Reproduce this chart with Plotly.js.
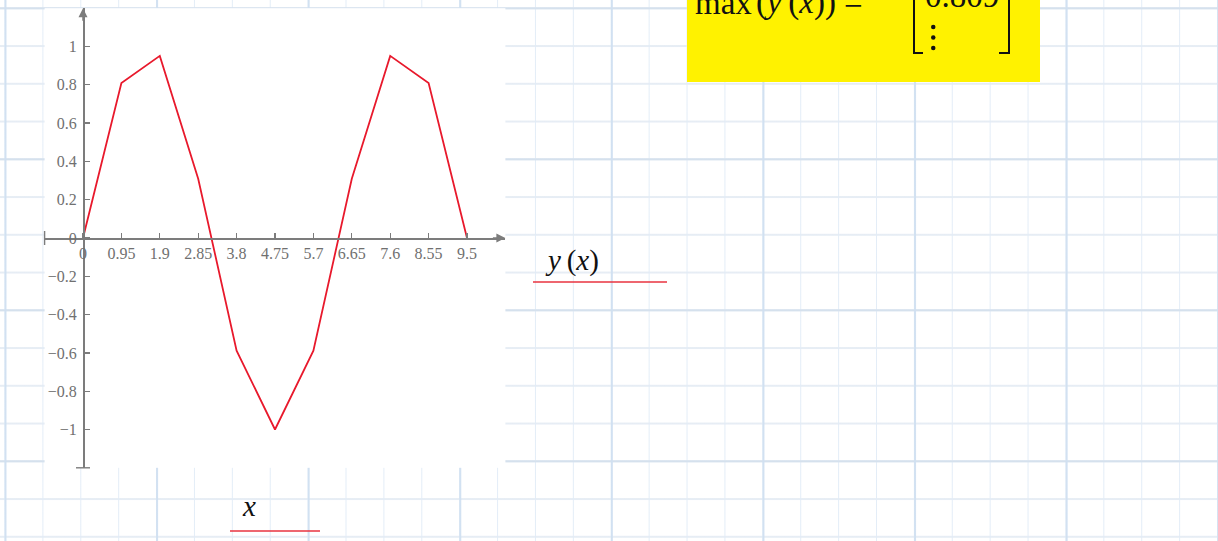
<!DOCTYPE html>
<html>
<head>
<meta charset="utf-8">
<script src="https://cdn.plot.ly/plotly-3.0.1.min.js"></script>
<style>
  html, body { margin: 0; padding: 0; }
  body {
    width: 1218px; height: 541px; overflow: hidden;
    background-color: #ffffff;
    /* worksheet grid paper: major lines every 4 cells */
    background-image:
      linear-gradient(to right, rgba(208,224,241,0.95) 1.6px, transparent 1.6px),
      linear-gradient(to bottom, rgba(212,224,237,0.95) 1.6px, transparent 1.6px),
      linear-gradient(to right, rgba(226,236,247,0.95) 1.3px, transparent 1.3px),
      linear-gradient(to bottom, rgba(229,236,244,0.95) 1.5px, transparent 1.5px);
    background-size: 151.6px 541px, 1218px 151px, 37.9px 541px, 1218px 37.75px;
    background-position: 4.5px 0, 0 7.3px, 4.5px 0, 0 7.3px;
  }
  #plot { width: 1218px; height: 541px; }
</style>
</head>
<body>
<div id="plot"></div>
<script>
// y(x) sampled at the worksheet range points
const xValues = [0, 0.95, 1.9, 2.85, 3.8, 4.75, 5.7, 6.65, 7.6, 8.55, 9.5];
const yValues = [0, 0.809, 0.951, 0.309, -0.588, -1, -0.588, 0.309, 0.951, 0.809, 0];

// tick marks and their labels
const xTickValues = [0, 0.95, 1.9, 2.85, 3.8, 4.75, 5.7, 6.65, 7.6, 8.55, 9.5];
const xTickLabels = ['0', '0.95', '1.9', '2.85', '3.8', '4.75', '5.7', '6.65', '7.6', '8.55', '9.5'];
const yTickValues = [-1, -0.8, -0.6, -0.4, -0.2, 0, 0.2, 0.4, 0.6, 0.8, 1];
const yTickLabels = ['\u22121', '\u22120.8', '\u22120.6', '\u22120.4', '\u22120.2', '0', '0.2', '0.4', '0.6', '0.8', '1'];

// axis limits
const xLimits = [-0.95, 10.45];
const yLimits = [-1.2, 1.2];

// result shown in the highlighted region
const maxLabel = '0.809';

const W = 1218, H = 541;
const px = v => v / W;           // pixel column -> paper x
const py = v => 1 - v / H;       // pixel row -> paper y

const xDomain = [px(44.6), px(505.4)];
const yDomain = [py(467.8), py(8.2)];

// where the crossing axes sit (data zero) in paper coordinates
const xAxisPos = yDomain[0] + (0 - yLimits[0]) / (yLimits[1] - yLimits[0]) * (yDomain[1] - yDomain[0]);
const yAxisPos = xDomain[0] + (0 - xLimits[0]) / (xLimits[1] - xLimits[0]) * (xDomain[1] - xDomain[0]);

const axisGray = '#7c7c7c';
const tickFont = { family: 'Liberation Serif, serif', size: 16, color: '#707070' };
const mathFont = { family: 'Liberation Serif, serif', size: 29, color: '#111111' };
const boxFont = { family: 'Liberation Serif, serif', size: 33, color: '#111111' };

const curve = {
  x: xValues, y: yValues, type: 'scatter', mode: 'lines',
  line: { color: '#e8192c', width: 1.8 },
  hoverinfo: 'skip', showlegend: false
};

// crossing ticks at the open ends of the axes
const endTicks = {
  x: [xLimits[0], 0], y: [0, yLimits[0]], type: 'scatter', mode: 'markers',
  marker: { symbol: ['line-ns', 'line-ew'], size: 10, color: axisGray, line: { color: axisGray, width: 1.4 } },
  cliponaxis: false, hoverinfo: 'skip', showlegend: false
};

const shapes = [
  // highlighted result region
  { type: 'rect', xref: 'paper', yref: 'paper', x0: px(687), x1: px(1040), y0: py(82), y1: py(-5),
    fillcolor: '#fff200', line: { width: 0 }, layer: 'below' },
  // matrix brackets
  { type: 'path', xref: 'paper', yref: 'paper',
    path: `M ${px(923)},${py(53)} L ${px(914)},${py(53)} L ${px(914)},${py(-10)}`,
    line: { color: '#111', width: 2 } },
  { type: 'path', xref: 'paper', yref: 'paper',
    path: `M ${px(999)},${py(53)} L ${px(1009)},${py(53)} L ${px(1009)},${py(-10)}`,
    line: { color: '#111', width: 2 } },
  // placeholder underlines for the axis expressions
  { type: 'line', xref: 'paper', yref: 'paper', x0: px(533), x1: px(667), y0: py(282), y1: py(282),
    line: { color: '#e8333f', width: 1.5 } },
  { type: 'line', xref: 'paper', yref: 'paper', x0: px(230), x1: px(320), y0: py(531), y1: py(531),
    line: { color: '#e8333f', width: 1.5 } }
];
// vertical ellipsis dots
[27, 37.5, 48].forEach(r => shapes.push({
  type: 'circle', xref: 'paper', yref: 'paper',
  x0: px(931), x1: px(935.5), y0: py(r + 2.2), y1: py(r - 2.2),
  fillcolor: '#111', line: { width: 0 }
}));

const annotations = [
  // axis arrows
  { x: xLimits[1], y: 0, xref: 'x', yref: 'y', ax: -14, ay: 0, text: '', showarrow: true,
    arrowhead: 2, arrowsize: 1.2, arrowwidth: 1.5, arrowcolor: axisGray, standoff: 0 },
  { x: 0, y: yLimits[1], xref: 'x', yref: 'y', ax: 0, ay: 14, text: '', showarrow: true,
    arrowhead: 2, arrowsize: 1.2, arrowwidth: 1.5, arrowcolor: axisGray, standoff: 0 },
  // axis expressions
  { xref: 'paper', yref: 'paper', x: px(543), y: py(260), xanchor: 'left', yanchor: 'middle',
    text: '<i>y</i>\u2009(<i>x</i>)', showarrow: false, font: mathFont },
  { xref: 'paper', yref: 'paper', x: px(240), y: py(506), xanchor: 'left', yanchor: 'middle',
    text: '<i>x</i>', showarrow: false, font: mathFont },
  // result expression
  { xref: 'paper', yref: 'paper', x: px(693), y: py(3), xanchor: 'left', yanchor: 'middle',
    text: 'max', showarrow: false, font: boxFont },
  { xref: 'paper', yref: 'paper', x: px(754), y: py(3), xanchor: 'left', yanchor: 'middle',
    text: '(<i>y</i>\u2009(<i>x</i>))', showarrow: false, font: boxFont },
  { xref: 'paper', yref: 'paper', x: px(842), y: py(3), xanchor: 'left', yanchor: 'middle',
    text: '=', showarrow: false, font: boxFont },
  { xref: 'paper', yref: 'paper', x: px(923), y: py(-4), xanchor: 'left', yanchor: 'middle',
    text: maxLabel, showarrow: false, font: boxFont }
];

const layout = {
  width: W, height: H,
  margin: { l: 0, r: 0, t: 0, b: 0 },
  paper_bgcolor: 'rgba(0,0,0,0)',
  plot_bgcolor: '#ffffff',
  showlegend: false,
  xaxis: {
    domain: xDomain, range: xLimits, anchor: 'free', position: xAxisPos,
    showgrid: false, zeroline: false, showline: true, linecolor: axisGray, linewidth: 1.5,
    tickmode: 'array', tickvals: xTickValues, ticktext: xTickLabels,
    ticks: 'inside', ticklen: 5, tickwidth: 1.3, tickcolor: axisGray,
    tickfont: tickFont, fixedrange: true
  },
  yaxis: {
    domain: yDomain, range: yLimits, anchor: 'free', position: yAxisPos,
    showgrid: false, zeroline: false, showline: true, linecolor: axisGray, linewidth: 1.5,
    tickmode: 'array', tickvals: yTickValues, ticktext: yTickLabels,
    ticks: 'inside', ticklen: 5, tickwidth: 1.3, tickcolor: axisGray,
    ticklabelstandoff: 3,
    tickfont: tickFont, fixedrange: true
  },
  shapes: shapes,
  annotations: annotations
};

Plotly.newPlot('plot', [curve, endTicks], layout, { displayModeBar: false, staticPlot: true });
</script>
</body>
</html>
